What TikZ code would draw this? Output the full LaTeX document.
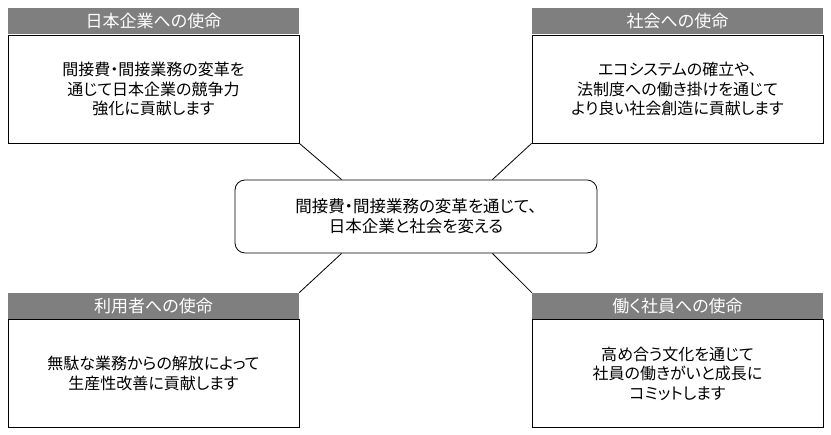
\documentclass[tikz,border=0pt]{standalone}
\usepackage{fontspec}
\setmainfont{Noto Sans CJK JP}[RawFeature=+palt]
\usetikzlibrary{positioning}
\definecolor{headgray}{RGB}{127,127,127}

\begin{document}
\begin{tikzpicture}[x=1bp, y=1bp, node distance=0bp,
    font=\fontsize{16bp}{19.5bp}\selectfont,
    body/.style={draw, line width=0.8pt, align=center, minimum width=291bp, minimum height=108bp, inner sep=0pt},
    head/.style={fill=headgray, text=white, align=center, minimum width=291bp, minimum height=26bp, inner sep=0pt, font=\fontsize{17bp}{19bp}\selectfont},
    core/.style={draw, rounded corners=10bp, line width=0.8pt, align=center, minimum width=362bp, minimum height=73bp, font=\fontsize{16.5bp}{20bp}\selectfont},
    link/.style={line width=0.8pt}]
  \useasboundingbox (0,0) rectangle (831,435);
  % centre
  \node[core] (c) at (416,218.5) {間接費・間接業務の変革を通じて、\\日本企業と社会を変える};
  % four missions
  \node[body] (tlbody) at (153.5,346) {間接費・間接業務の変革を\\通じて日本企業の競争力\\強化に貢献します};
  \node[head, above=of tlbody] (tlhead) {日本企業への使命};
  \node[body] (trbody) at (677.5,346) {エコシステムの確立や、\\法制度への働き掛けを通じて\\より良い社会創造に貢献します};
  \node[head, above=of trbody] (trhead) {社会への使命};
  \node[body] (blbody) at (153.5,61.5) {無駄な業務からの解放によって\\生産性改善に貢献します};
  \node[head, above=of blbody] (blhead) {利用者への使命};
  \node[body] (brbody) at (677.5,61.5) {高め合う文化を通じて\\社員の働きがいと成長に\\コミットします};
  \node[head, above=of brbody] (brhead) {働く社員への使命};
  % links
  \draw[link] (tlbody.south east) -- ([xshift=107bp]c.north west);
  \draw[link] (trbody.south west) -- ([xshift=-105bp]c.north east);
  \draw[link] (blhead.north east) -- ([xshift=107bp]c.south west);
  \draw[link] (brhead.north west) -- ([xshift=-105bp]c.south east);
\end{tikzpicture}
\end{document}
